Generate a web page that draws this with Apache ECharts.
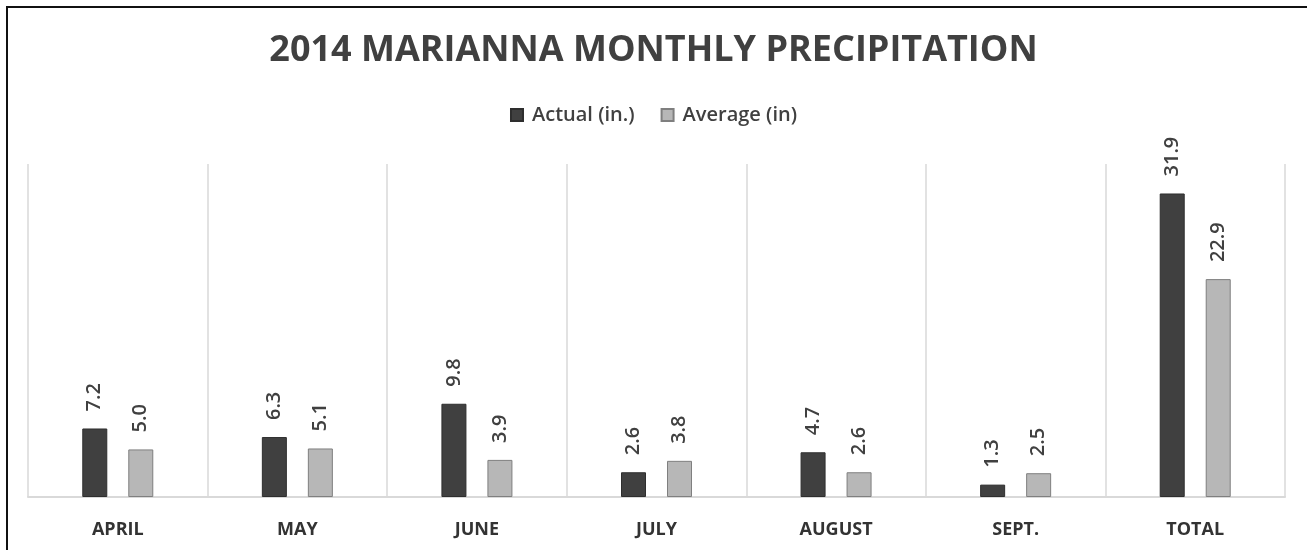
<!DOCTYPE html>
<html><head><meta charset="utf-8">
<script src="https://cdn.jsdelivr.net/npm/echarts@6/dist/echarts.min.js"></script>
<style>
html,body{margin:0;padding:0;background:#fff;}
#frame{position:absolute;left:6px;top:6px;width:1320px;height:600px;border-left:2px solid #111;border-top:2px solid #111;}
#c{position:absolute;left:0;top:0;width:1307px;height:550px;}
</style></head>
<body>
<div id="frame"></div>
<div id="c"></div>
<script>
const titleText = '2014 MARIANNA MONTHLY PRECIPITATION';
const categories = ['APRIL', 'MAY', 'JUNE', 'JULY', 'AUGUST', 'SEPT.', 'TOTAL'];
const actualName = 'Actual (in.)';
const averageName = 'Average (in)';
const actual = [7.2, 6.3, 9.8, 2.6, 4.7, 1.3, 31.9];
const average = [5.0, 5.1, 3.9, 3.8, 2.6, 2.5, 22.9];

const FONT = '"Open Sans", sans-serif';
const labelCfg = {
  show: true, position: 'top', rotate: 90, align: 'left', verticalAlign: 'middle',
  distance: 17, color: '#404040', fontSize: 20, fontFamily: FONT, fontWeight: 600,
  formatter: p => p.value.toFixed(1)
};
const chart = echarts.init(document.getElementById('c'), null, {renderer: 'canvas'});
chart.setOption({
  animation: false,
  backgroundColor: 'transparent',
  title: {
    text: titleText, left: 'center', top: 28,
    textStyle: {fontFamily: FONT, fontWeight: 'bold', fontSize: 36, color: '#404040'}
  },
  legend: {
    top: 100, left: 'center', itemWidth: 12, itemHeight: 12, itemGap: 26,
    icon: 'rect',
    textStyle: {fontFamily: FONT, fontSize: 20, fontWeight: 600, color: '#404040', padding: [0, 0, 0, 4]},
    data: [actualName, averageName]
  },
  grid: {left: 28, right: 22, top: 164, bottom: 53, containLabel: false},
  xAxis: {
    type: 'category', data: categories, boundaryGap: true,
    axisLine: {show: true, lineStyle: {color: '#d9d9d9', width: 2}},
    axisTick: {show: false},
    splitLine: {show: true, lineStyle: {color: '#d9d9d9', width: 1.5}},
    axisLabel: {fontFamily: FONT, fontSize: 18, fontWeight: 'bold', color: '#333', margin: 24, interval: 0}
  },
  yAxis: {
    type: 'value', min: 0, max: 35, show: false,
    splitLine: {show: false}
  },
  series: [
    {name: actualName, type: 'bar', data: actual, barWidth: 25, barGap: '84%',
     itemStyle: {color: '#404040', borderColor: '#2e2e2e', borderWidth: 1},
     label: labelCfg},
    {name: averageName, type: 'bar', data: average, barWidth: 25,
     itemStyle: {color: '#b7b7b7', borderColor: '#7f7f7f', borderWidth: 1},
     label: labelCfg}
  ]
});
</script>
</body></html>
